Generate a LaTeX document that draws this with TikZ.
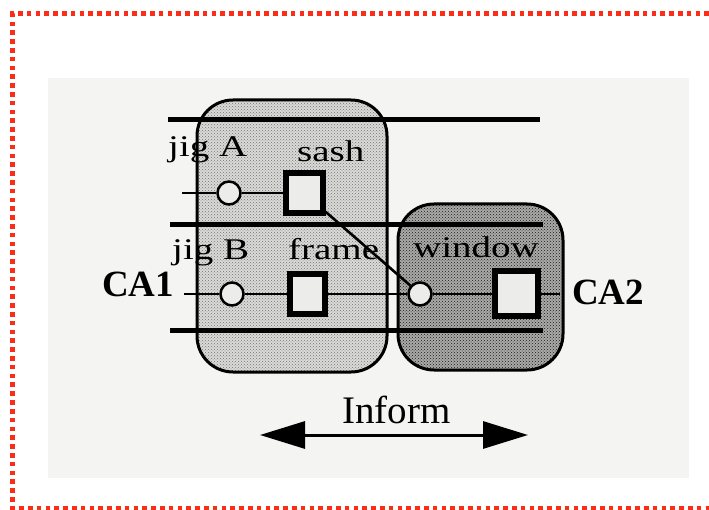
\documentclass[tikz,border=0pt]{standalone}
\usepackage{fontspec}
\setmainfont{Liberation Serif}
\usetikzlibrary{arrows.meta,patterns}
\definecolor{dotred}{RGB}{250,45,25}
\definecolor{paper}{RGB}{244,244,242}
\definecolor{lightfill}{RGB}{218,218,216}
\definecolor{darkfill}{RGB}{170,170,168}
\definecolor{boxfill}{RGB}{236,236,234}
\newcommand\widelabel[1]{\scalebox{1.3}[1]{#1}}
\begin{document}
\begin{tikzpicture}[x=1pt,y=-1pt,
  bar/.style={line width=5pt},
  wire/.style={line width=2.6pt},
  jig/.style={circle,draw,line width=2.5pt,fill=boxfill,minimum size=23pt,inner sep=0pt},
  part/.style={rectangle,draw,line width=6pt,fill=boxfill,inner sep=0pt},
  lbl/.style={font=\fontsize{30}{32}\selectfont,inner sep=0pt,anchor=base west},
  ca/.style={font=\fontsize{37}{40}\selectfont\bfseries,inner sep=0pt,anchor=base west},
  group/.style={rounded corners=36pt,line width=3pt}
]
\useasboundingbox (0,0) rectangle (709,510);
\fill[paper] (48,78) rectangle (689,478);
\draw[dotred,line width=5pt,dash pattern=on 4.6pt off 4.2pt] (709,14) -- (12.7,14) -- (12.7,508) -- (709,508);
% groups (fill)
\path[group,fill=lightfill] (197,100) rectangle (387,372);
\path[group,pattern=crosshatch dots,pattern color=black!55] (197,100) rectangle (387,372);
\path[group,fill=darkfill] (398,204) rectangle (563,370);
\path[group,pattern=crosshatch dots,pattern color=black!90] (398,204) rectangle (563,370);
% bars
\draw[bar] (168,120) -- (540,120);
\draw[bar] (170,225) -- (543,225);
\draw[bar] (170,331) -- (543,331);
% group outlines
\draw[group] (197,100) rectangle (387,372);
\draw[group] (398,204) rectangle (563,370);
% row A
\coordinate (inA) at (182,193);
\node[jig] (jA) at (229,193) {};
\node[part,minimum width=37pt,minimum height=40pt] (sash) at (304,193) {};
% row B
\coordinate (inB) at (184,294);
\node[jig] (jB) at (232,294) {};
\node[part,minimum width=35pt,minimum height=40pt] (frame) at (307,294) {};
\node[jig] (wc) at (420,294) {};
\node[part,minimum width=43pt,minimum height=45pt] (wsq) at (516,294) {};
\coordinate (outW) at (560,294);
% wires
\draw[wire] (inA) -- (jA) -- (sash);
\draw[wire] (inB) -- (jB) -- (frame) -- (wc) -- (wsq) -- (outW);
\draw[wire] (sash) -- (wc);
% labels
\node[lbl] (tjA) at (168,157) {\widelabel{jig A}};
\node[lbl] (tsash) at (297,162) {\widelabel{sash}};
\node[lbl] (tjB) at (172,260) {\widelabel{jig B}};
\node[lbl] (tframe) at (288,260) {\widelabel{frame}};
\node[lbl] (twin) at (413,258) {\widelabel{window}};
\node[ca] (ca1) at (102,297) {CA1};
\node[ca] (ca2) at (572,305) {CA2};
\node[font=\fontsize{39}{42}\selectfont,inner sep=0pt,anchor=base west] (inf) at (342,423) {Inform};
% inform arrow
\coordinate (aL) at (260,435);
\coordinate (aR) at (528,435);
\draw[line width=3pt,{Triangle[length=45pt,width=27pt]}-{Triangle[length=45pt,width=27pt]}] (aL) -- (aR);
\end{tikzpicture}
\end{document}
